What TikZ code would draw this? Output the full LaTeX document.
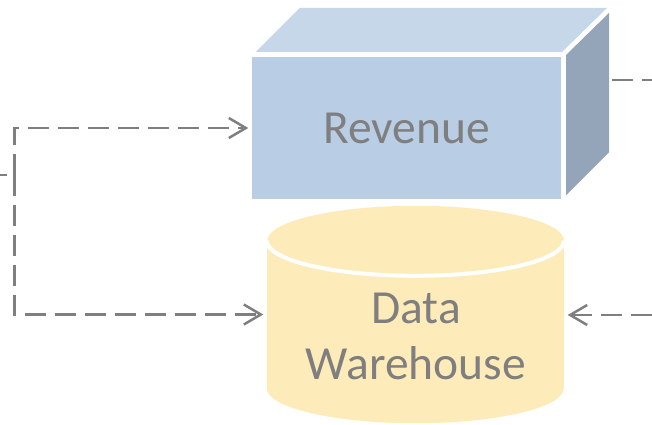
\documentclass[tikz,border=0pt]{standalone}
\usepackage{fontspec}
\setmainfont{Carlito}
\usetikzlibrary{arrows.meta}
\definecolor{boxfront}{HTML}{B9CDE5}
\definecolor{boxtop}{HTML}{C6D7EA}
\definecolor{boxside}{HTML}{95A5B9}
\definecolor{dbfill}{HTML}{FDEBB9}
\definecolor{linegray}{HTML}{7F7F7F}
\begin{document}
\begin{tikzpicture}[x=1pt, y=1pt,
    every node/.style={inner sep=0pt, text=linegray, font=\fontsize{47.5}{56}\selectfont},
    cube/.style={fill=boxfront, minimum width=309pt, minimum height=142pt},
    dbbody/.style={minimum width=297pt, minimum height=147pt},
    flow/.style={draw=linegray, line width=2.5pt, dash pattern=on 21pt off 9pt},
    flowtip/.style={-{Straight Barb[length=17pt,width=20pt]}, shorten >=3.5pt}]
    \useasboundingbox (0,0) rectangle (652,424);
      % revenue cube
      \node[cube] (rev) at (406.5,296) {Revenue};
      \fill[boxtop] ([shift={(4,5)}]rev.north west) -- ([shift={(48,49)}]rev.north west)
        -- ([shift={(46,49)}]rev.north east) -- ([shift={(1,5)}]rev.north east) -- cycle;
      \fill[boxside] ([shift={(5,2)}]rev.north east) -- ([shift={(48,44)}]rev.north east)
        -- ([shift={(48,47)}]rev.south east) -- ([shift={(5,4)}]rev.south east) -- cycle;
      % warehouse cylinder
      \node[dbbody] (dw) at (415.5,109.5) {};
      \fill[dbfill] (dw.south west) arc[start angle=180, end angle=360, x radius=148.5, y radius=35]
        -- (dw.north east) arc[start angle=0, end angle=180, x radius=148.5, y radius=35] -- cycle;
      \draw[white, line width=4pt] (dw.north west) arc[start angle=180, end angle=360, x radius=148.5, y radius=35];
      \node[align=center] (dwtext) at (416,88) {Data\\Warehouse};
      % connectors
      \coordinate (src) at (0,249);
      \coordinate (split) at (14.5,249);
      \coordinate (revport) at ([xshift=51pt]rev.north east);
      \coordinate (out) at (652,344);
      \coordinate (feed) at (652,109);
      \draw[flow, dash phase=14pt] (src) -- (split);
      \foreach \target in {rev,dw}
        \draw[flow, flowtip] (split) |- (\target.west);
      \draw[flow] (out -| revport) -- (out);
      \draw[flow, flowtip] (feed) -- (feed -| dw.east);
    \end{tikzpicture}
\end{document}
